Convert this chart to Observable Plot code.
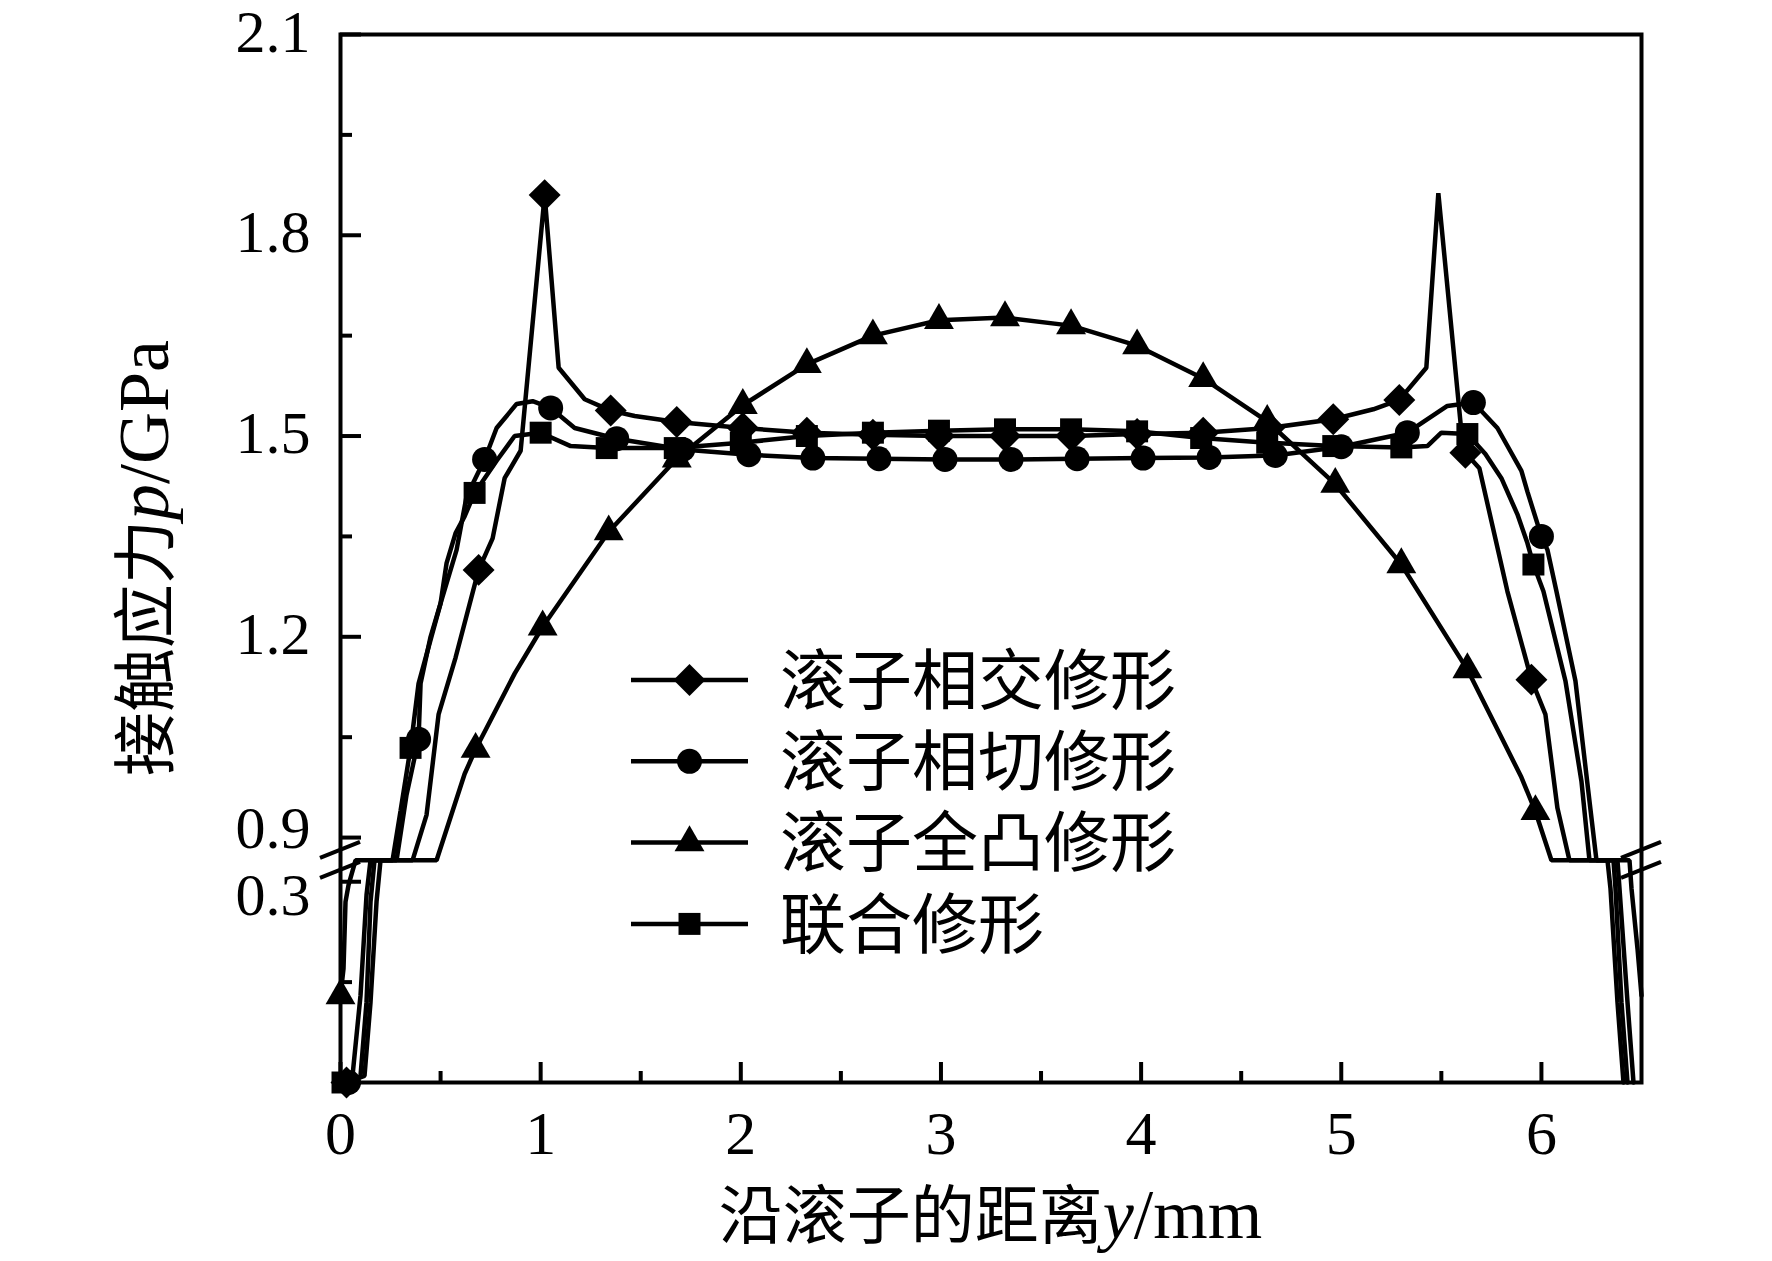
<!DOCTYPE html>
<html>
<head>
<meta charset="utf-8">
<script src="https://cdn.jsdelivr.net/npm/d3@7"></script>
<script src="https://cdn.jsdelivr.net/npm/@observablehq/plot@0.6"></script>
<style>
  html, body { margin: 0; padding: 0; background: #fff; }
  #chart svg { display: block; }
</style>
</head>
<body>
<div id="chart"></div>
<script>
// ---------- data (y/mm, p/GPa) ----------
const seriesNames = ["滚子相交修形", "滚子相切修形", "滚子全凸修形", "联合修形"];

// 滚子相交修形 (diamond)
const xJX = [0.03,0.12,0.15,0.18,0.20,0.28,0.36,0.43,0.49,0.575,0.69,0.76,0.82,0.90,1.02,1.09,1.22,1.35,1.47,1.68,2.01,2.33,2.66,2.99,3.32,3.65,3.98,4.31,4.64,4.96,5.16,5.29,5.425,5.485,5.60,5.62,5.69,5.75,5.83,5.95,6.02,6.08,6.14,6.25,6.33,6.345,6.38,6.41];
const pJX = [0,0.01,0.12,0.27,0.45,0.70,0.88,0.934,1.084,1.169,1.30,1.347,1.437,1.478,1.86,1.602,1.555,1.538,1.530,1.521,1.512,1.505,1.502,1.50,1.50,1.50,1.503,1.505,1.512,1.525,1.54,1.554,1.602,1.863,1.507,1.475,1.452,1.373,1.268,1.136,1.084,0.944,0.85,0.60,0.35,0.29,0.12,0];
const mJX = [0.03,0.69,1.02,1.35,1.68,2.01,2.33,2.66,2.99,3.32,3.65,3.98,4.31,4.64,4.96,5.29,5.62,5.95];

// 滚子相切修形 (circle)
const xQQ = [0.04,0.10,0.13,0.15,0.17,0.28,0.33,0.39,0.40,0.45,0.51,0.58,0.63,0.72,0.78,0.88,0.96,1.05,1.17,1.38,1.71,2.04,2.36,2.69,3.02,3.35,3.68,4.01,4.34,4.67,5.00,5.33,5.53,5.66,5.78,5.90,5.93,6.00,6.03,6.075,6.17,6.23,6.275,6.38,6.39,6.43,6.46];
const pQQ = [0,0.01,0.12,0.27,0.40,0.85,0.964,1.047,1.13,1.20,1.26,1.33,1.41,1.465,1.512,1.548,1.552,1.542,1.512,1.496,1.48,1.472,1.467,1.466,1.465,1.465,1.466,1.467,1.468,1.471,1.484,1.505,1.545,1.55,1.512,1.448,1.417,1.35,1.33,1.268,1.134,0.98,0.85,0.40,0.29,0.12,0];
const mQQ = [0.04,0.39,0.72,1.05,1.38,1.71,2.04,2.36,2.69,3.02,3.35,3.68,4.01,4.34,4.67,5.00,5.33,5.66,6.00];

// 滚子全凸修形 (triangle)
const xQT = [0,0.015,0.025,0.04,0.075,0.30,0.48,0.62,0.675,0.87,1.01,1.34,1.68,2.01,2.33,2.66,2.99,3.32,3.65,3.98,4.31,4.63,4.97,5.30,5.63,5.80,5.90,5.97,6.05,6.44,6.45,6.48,6.50];
const pQT = [0.13,0.17,0.27,0.295,0.35,0.60,0.88,0.995,1.032,1.145,1.215,1.357,1.466,1.546,1.607,1.65,1.673,1.677,1.665,1.635,1.586,1.522,1.428,1.308,1.151,1.05,0.99,0.939,0.85,0.35,0.29,0.20,0.13];
const mQT = [0,0.675,1.01,1.34,1.68,2.01,2.33,2.66,2.99,3.32,3.65,3.98,4.31,4.63,4.97,5.30,5.63,5.97];

// 联合修形 (square)
const xLH = [0.01,0.06,0.10,0.13,0.15,0.26,0.30,0.35,0.39,0.50,0.53,0.575,0.62,0.67,0.78,0.87,1.00,1.15,1.33,1.67,2.00,2.33,2.66,2.99,3.32,3.65,3.98,4.30,4.63,4.96,5.30,5.43,5.50,5.63,5.72,5.80,5.88,5.93,5.96,6.01,6.12,6.20,6.24,6.36,6.37,6.40,6.43];
const pLH = [0,0.01,0.13,0.28,0.40,0.85,0.94,1.034,1.13,1.25,1.31,1.355,1.38,1.415,1.463,1.50,1.505,1.485,1.482,1.482,1.49,1.50,1.505,1.508,1.51,1.51,1.507,1.497,1.49,1.485,1.483,1.485,1.505,1.503,1.473,1.437,1.383,1.34,1.308,1.268,1.134,0.984,0.85,0.40,0.29,0.12,0];
const mLH = [0.01,0.35,0.67,1.00,1.33,1.67,2.00,2.33,2.66,2.99,3.32,3.65,3.98,4.30,4.63,4.96,5.30,5.63,5.96];

// axis ticks
const xMajor = [0, 1, 2, 3, 4, 5, 6];
const xMinor = [0.5, 1.5, 2.5, 3.5, 4.5, 5.5];
const yUpperLabels = [1.2, 1.5, 1.8, 2.1];
const yBreakTop = [0.9];
const yLowerLabels = [0.3];
const yMajor = [0.3, 0.9, 1.2, 1.5, 1.8, 2.1];
const yMinor = [0.15, 1.05, 1.35, 1.65, 1.95];
const yExtent = [0, 2.1];

// ---------- build ----------
const W = 1772, H = 1261;
const mL = 340, mR = 131, mT = 34, mB = 179;
const fw = W - mL - mR, fh = H - mT - mB;

const symbols = [d3.symbolDiamond2, d3.symbolCircle, d3.symbolTriangle, d3.symbolSquare];
const radii = [14.4, 12.5, 11.1, 12.4];
const seriesX = [xJX, xQQ, xQT, xLH];
const seriesP = [pJX, pQQ, pQT, pLH];
const seriesM = [mJX, mQQ, mQT, mLH];

const series = seriesNames.map((name, i) => {
  const pts = seriesX[i].map((x, j) => ({x, p: seriesP[i][j], name}));
  const marks = pts.filter(d => seriesM[i].includes(d.x));
  return {name, pts, marks};
});

// broken y axis: 0–0.3 | break | 0.9–2.1 ; values inside the break sit on the break line
const yBreak = v => v <= 0.3 ? v : (v < 0.9 ? 0.332 : v - 0.9 + 0.366);

const serif = "'Liberation Serif', 'Times New Roman', 'Noto Sans CJK SC', serif";
const LW = 4.5;
const tickText = {frameAnchor: "left", textAnchor: "end", dx: -30, fontSize: 60, fontFamily: serif, fill: "black"};

const marks = [
  Plot.dot(yExtent, {y: d => d, r: 1, fill: "none", stroke: "none"}),
  Plot.frame({stroke: "black", strokeWidth: 4}),
  Plot.tickX(xMajor, {x: d => d, insetTop: fh - 20, stroke: "black", strokeWidth: 4}),
  Plot.tickX(xMinor, {x: d => d, insetTop: fh - 11, stroke: "black", strokeWidth: 4}),
  Plot.tickY(yMajor, {y: d => d, insetRight: fw - 21, stroke: "black", strokeWidth: 4}),
  Plot.tickY(yMinor, {y: d => d, insetRight: fw - 12, stroke: "black", strokeWidth: 4}),
  Plot.text(xMajor, {x: d => d, text: d => String(d), frameAnchor: "bottom", lineAnchor: "top", dy: 27, fontSize: 62, fontFamily: serif, fill: "black"}),
  Plot.text(yUpperLabels, {y: d => d, text: d => d.toFixed(1), dy: -2, ...tickText}),
  Plot.text(yBreakTop, {y: d => d, text: d => d.toFixed(1), dy: -9, ...tickText}),
  Plot.text(yLowerLabels, {y: d => d, text: d => d.toFixed(1), dy: 14, ...tickText})
];
series.forEach((s, i) => {
  marks.push(Plot.line(s.pts, {x: "x", y: "p", stroke: "black", strokeWidth: LW, strokeLinejoin: "miter", curve: "linear"}));
});
series.forEach((s, i) => {
  marks.push(Plot.dot(s.marks, {x: "x", y: "p", symbol: symbols[i], r: radii[i], fill: "black", stroke: "none"}));
});

const chart = Plot.plot({
  width: W,
  height: H,
  marginLeft: mL,
  marginRight: mR,
  marginTop: mT,
  marginBottom: mB,
  style: {background: "white", color: "black", fontFamily: serif},
  x: {domain: [0, 6.5], axis: null},
  y: {transform: yBreak, nice: false, zero: false, axis: null},
  marks
});
document.getElementById("chart").appendChild(chart);

// ---------- decorations: break marks, titles, legend ----------
const svg = d3.select(chart);
const sx = chart.scale("x"), sy = chart.scale("y");
const yb = sy.apply(yBreak(0.6));
const xl = sx.apply(0), xr = sx.apply(6.5);
const brk = svg.append("g").attr("stroke", "black").attr("stroke-width", 4);
[xl, xr].forEach(x0 => {
  [-10, 10].forEach(off => {
    brk.append("line")
      .attr("x1", x0 - 20).attr("y1", yb + off + 8)
      .attr("x2", x0 + 20).attr("y2", yb + off - 8);
  });
});

// x title
const xt = svg.append("text")
  .attr("x", (xl + xr) / 2).attr("y", 1238)
  .attr("text-anchor", "middle")
  .attr("font-family", serif).attr("fill", "black");
xt.append("tspan").attr("font-size", 64).text("沿滚子的距离");
xt.append("tspan").attr("font-size", 70).attr("font-style", "italic").text("y");
xt.append("tspan").attr("font-size", 70).text("/mm");

// y title
const yt = svg.append("text")
  .attr("transform", `translate(168, ${(sy.apply(yBreak(2.1)) + sy.apply(0)) / 2}) rotate(-90)`)
  .attr("text-anchor", "middle")
  .attr("font-family", serif).attr("fill", "black");
yt.append("tspan").attr("font-size", 64).text("接触应力");
yt.append("tspan").attr("font-size", 72).attr("font-style", "italic").text("p");
yt.append("tspan").attr("font-size", 72).text("/GPa");

// legend
const lg = svg.append("g");
seriesNames.forEach((name, i) => {
  const y = 680 + i * 81.3;
  lg.append("line").attr("x1", 631).attr("x2", 748).attr("y1", y).attr("y2", y)
    .attr("stroke", "black").attr("stroke-width", LW);
  lg.append("path")
    .attr("d", d3.symbol(symbols[i], Math.PI * radii[i] * radii[i])())
    .attr("transform", `translate(689.5, ${y})`).attr("fill", "black");
  lg.append("text").attr("x", 780).attr("y", y).attr("dy", "0.36em")
    .attr("text-anchor", "start")
    .attr("font-size", 66).attr("font-family", serif).attr("fill", "black").text(name);
});
</script>
</body>
</html>
